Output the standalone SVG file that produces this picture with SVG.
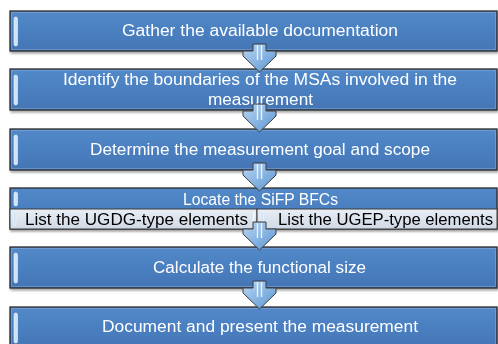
<svg xmlns="http://www.w3.org/2000/svg" width="498" height="344" viewBox="0 0 498 344">
<defs>
<linearGradient id="blue" x1="0" y1="0" x2="0" y2="1">
<stop offset="0" stop-color="#5389c9"/>
<stop offset="0.5" stop-color="#4a7fc0"/>
<stop offset="1" stop-color="#4475b5"/>
</linearGradient>
<linearGradient id="cell" x1="0" y1="0" x2="0" y2="1">
<stop offset="0" stop-color="#e9eef5"/>
<stop offset="1" stop-color="#cfd9e6"/>
</linearGradient>
<linearGradient id="arr" x1="0" y1="0" x2="1" y2="1">
<stop offset="0" stop-color="#b9d6f2"/>
<stop offset="1" stop-color="#5b96d3"/>
</linearGradient>
<filter id="sh" x="-5%" y="-20%" width="110%" height="150%">
<feGaussianBlur in="SourceAlpha" stdDeviation="1.2"/>
<feOffset dx="1" dy="1.5" result="b"/>
<feComponentTransfer><feFuncA type="linear" slope="0.35"/></feComponentTransfer>
<feMerge><feMergeNode/><feMergeNode in="SourceGraphic"/></feMerge>
</filter>
</defs>
<style>
.box{fill:url(#blue);stroke:#2a2a2a;stroke-width:1.3}
.inner{fill:none;stroke:#8fb0d8;stroke-width:0.8;opacity:0.6}
.hl{fill:#cfe3f8;stroke:#eef6ff;stroke-width:0.6}
.t{font-family:"Liberation Sans",Arial,sans-serif;font-size:16px;fill:#ffffff;text-anchor:middle}
.c{font-family:"Liberation Sans",Arial,sans-serif;font-size:16px;fill:#000000}
.cellr{fill:url(#cell);stroke:#3a3a3a;stroke-width:1}
.arrow{fill:url(#arr);stroke:#3c3c3c;stroke-width:1}
.stripe{stroke:#f2f8ff;stroke-width:1.4;opacity:0.9}
</style>
<rect width="498" height="344" fill="#ffffff"/>

<g id="n1" filter="url(#sh)">
<rect class="box" x="10" y="11" width="487" height="40"/>
<rect class="inner" x="11.5" y="12.5" width="484" height="37"/>
<rect class="hl" x="14" y="17" width="3.5" height="29" rx="1.7"/>
<text class="t" x="260" y="36" textLength="276" lengthAdjust="spacingAndGlyphs">Gather the available documentation</text>
</g>

<g id="n2" filter="url(#sh)">
<rect class="box" x="10" y="69" width="487" height="41"/>
<rect class="inner" x="11.5" y="70.5" width="484" height="38"/>
<rect class="hl" x="14" y="75" width="3.5" height="30" rx="1.7"/>
<text class="t" x="260" y="85" textLength="394" lengthAdjust="spacingAndGlyphs">Identify the boundaries of the MSAs involved in the</text>
<text class="t" x="260.5" y="104.5" textLength="105" lengthAdjust="spacingAndGlyphs">measurement</text>
</g>

<g id="n3" filter="url(#sh)">
<rect class="box" x="10" y="129" width="487" height="41"/>
<rect class="inner" x="11.5" y="130.5" width="484" height="38"/>
<rect class="hl" x="14" y="135" width="3.5" height="30" rx="1.7"/>
<text class="t" x="260" y="155" textLength="340" lengthAdjust="spacingAndGlyphs">Determine the measurement goal and scope</text>
</g>

<g id="n4" filter="url(#sh)">
<rect class="box" x="10" y="188" width="487" height="41"/>
<rect class="hl" x="14" y="192" width="3.5" height="14" rx="1.7"/>
<text class="t" x="260.5" y="205" font-size="15" textLength="155" lengthAdjust="spacingAndGlyphs">Locate the SiFP BFCs</text>
<g id="n4a">
<rect class="cellr" x="10" y="209" width="247" height="20"/>
<rect class="hl" x="13.5" y="212" width="2.5" height="14" rx="1.2"/>
<text class="c" x="25" y="225" textLength="223" lengthAdjust="spacingAndGlyphs">List the UGDG-type elements</text>
</g>
<g id="n4b">
<rect class="cellr" x="257" y="209" width="240" height="20"/>
<rect class="hl" x="261" y="212" width="2.5" height="14" rx="1.2"/>
<path d="M255 212 q-3 7 0 14" fill="none" stroke="#f4f8fc" stroke-width="1.5"/>
<text class="c" x="278" y="225" textLength="215" lengthAdjust="spacingAndGlyphs">List the UGEP-type elements</text>
</g>
</g>

<g id="n5" filter="url(#sh)">
<rect class="box" x="10" y="247" width="487" height="41"/>
<rect class="inner" x="11.5" y="248.5" width="484" height="38"/>
<rect class="hl" x="14" y="253" width="3.5" height="30" rx="1.7"/>
<text class="t" x="259.5" y="273" textLength="213" lengthAdjust="spacingAndGlyphs">Calculate the functional size</text>
</g>

<g id="n6" filter="url(#sh)">
<rect class="box" x="10" y="307" width="487" height="42"/>
<rect class="inner" x="11.5" y="308.5" width="484" height="39"/>
<rect class="hl" x="14" y="313" width="3.5" height="30" rx="1.7"/>
<text class="t" x="260" y="332" textLength="316" lengthAdjust="spacingAndGlyphs">Document and present the measurement</text>
</g>

<g id="connectors">
<g transform="translate(0,51)">
<polygon class="arrow" points="253,-7 266,-7 266,0 276,0 276,5 259.5,21 243,5 243,0 253,0"/>
<line class="stripe" x1="257.5" y1="-6" x2="257.5" y2="9"/><line class="stripe" x1="261.5" y1="-6" x2="261.5" y2="9"/>
</g>
<g transform="translate(0,111)">
<polygon class="arrow" points="253,-7 266,-7 266,0 276,0 276,5 259.5,21 243,5 243,0 253,0"/>
<line class="stripe" x1="257.5" y1="-6" x2="257.5" y2="9"/><line class="stripe" x1="261.5" y1="-6" x2="261.5" y2="9"/>
</g>
<g transform="translate(0,170)">
<polygon class="arrow" points="253,-7 266,-7 266,0 276,0 276,5 259.5,21 243,5 243,0 253,0"/>
<line class="stripe" x1="257.5" y1="-6" x2="257.5" y2="9"/><line class="stripe" x1="261.5" y1="-6" x2="261.5" y2="9"/>
</g>
<g transform="translate(0,229)">
<polygon class="arrow" points="253,-7 266,-7 266,0 276,0 276,5 259.5,21 243,5 243,0 253,0"/>
<line class="stripe" x1="257.5" y1="-6" x2="257.5" y2="9"/><line class="stripe" x1="261.5" y1="-6" x2="261.5" y2="9"/>
</g>
<g transform="translate(0,288)">
<polygon class="arrow" points="253,-7 266,-7 266,0 276,0 276,5 259.5,21 243,5 243,0 253,0"/>
<line class="stripe" x1="257.5" y1="-6" x2="257.5" y2="9"/><line class="stripe" x1="261.5" y1="-6" x2="261.5" y2="9"/>
</g>
</g>
</svg>
